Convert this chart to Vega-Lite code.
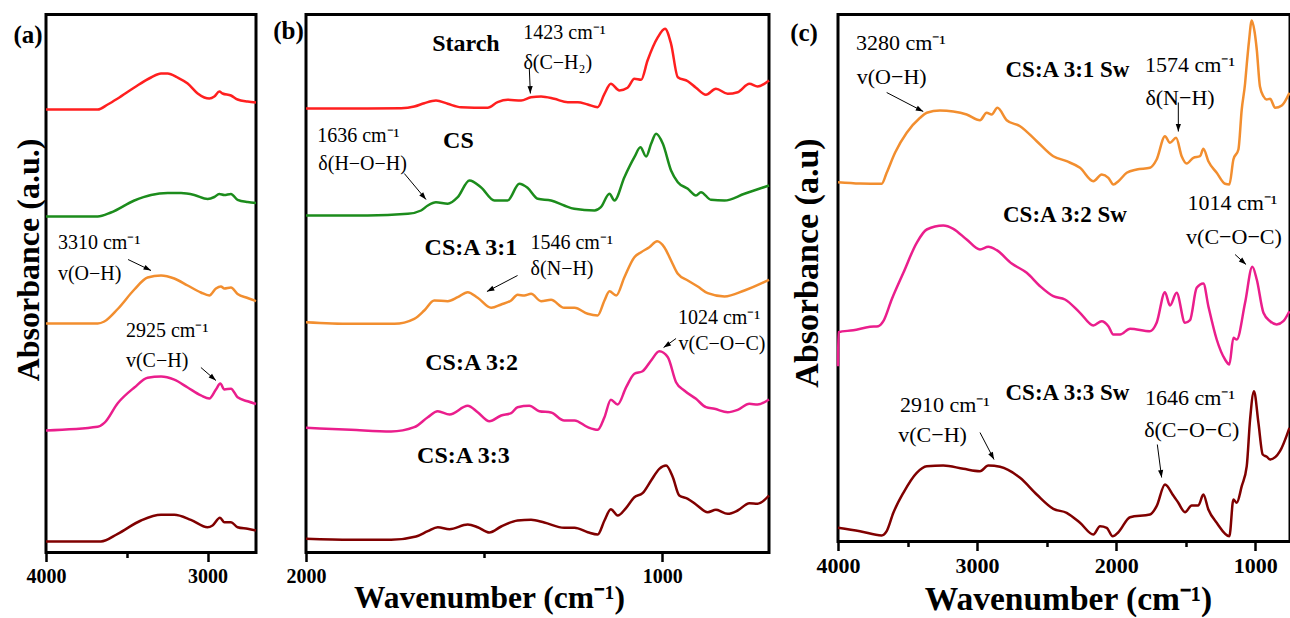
{
  "$schema": "https://vega.github.io/schema/vega-lite/v6.json",
  "padding": {"left": 10, "top": 12.5, "right": 0, "bottom": 0},
  "background": "white",
  "config": {
    "view": {"stroke": "black", "strokeWidth": 3},
    "axis": {"domain": false, "grid": false, "labelFont": "Liberation Serif", "labelFontWeight": "bold", "labelFontSize": 20, "labelColor": "black", "tickColor": "black", "tickWidth": 2.5, "titleFont": "Liberation Serif", "titleFontWeight": "bold", "titleFontSize": 30, "titleColor": "black", "labelFlush": false, "labelOverlap": false},
    "text": {"font": "Liberation Serif", "color": "black"}
  },
  "datasets": {
    "A": [
      {"s": "Starch", "w": 4000, "v": 443}, {"s": "Starch", "w": 3680, "v": 443}, {"s": "Starch", "w": 3618, "v": 448}, {"s": "Starch", "w": 3556, "v": 454}, {"s": "Starch", "w": 3453, "v": 465}, {"s": "Starch", "w": 3350, "v": 475}, {"s": "Starch", "w": 3288, "v": 479}, {"s": "Starch", "w": 3247, "v": 479}, {"s": "Starch", "w": 3185, "v": 475}, {"s": "Starch", "w": 3123, "v": 469}, {"s": "Starch", "w": 3061, "v": 459}, {"s": "Starch", "w": 3020, "v": 455}, {"s": "Starch", "w": 2989, "v": 454}, {"s": "Starch", "w": 2958, "v": 456}, {"s": "Starch", "w": 2927, "v": 461}, {"s": "Starch", "w": 2907, "v": 459}, {"s": "Starch", "w": 2855, "v": 457}, {"s": "Starch", "w": 2814, "v": 453}, {"s": "Starch", "w": 2752, "v": 451}, {"s": "Starch", "w": 2700, "v": 450},
      {"s": "CS", "w": 4000, "v": 336}, {"s": "CS", "w": 3680, "v": 336}, {"s": "CS", "w": 3598, "v": 340}, {"s": "CS", "w": 3453, "v": 352}, {"s": "CS", "w": 3350, "v": 357.5}, {"s": "CS", "w": 3247, "v": 359.4}, {"s": "CS", "w": 3164, "v": 359.4}, {"s": "CS", "w": 3082, "v": 357.5}, {"s": "CS", "w": 2999, "v": 353.5}, {"s": "CS", "w": 2958, "v": 355.5}, {"s": "CS", "w": 2927, "v": 358.6}, {"s": "CS", "w": 2896, "v": 357.5}, {"s": "CS", "w": 2855, "v": 358.6}, {"s": "CS", "w": 2814, "v": 352.7}, {"s": "CS", "w": 2752, "v": 350.4}, {"s": "CS", "w": 2700, "v": 349.6},
      {"s": "CS:A 3:1", "w": 4000, "v": 229}, {"s": "CS:A 3:1", "w": 3680, "v": 229}, {"s": "CS:A 3:1", "w": 3639, "v": 231}, {"s": "CS:A 3:1", "w": 3556, "v": 243.5}, {"s": "CS:A 3:1", "w": 3453, "v": 263}, {"s": "CS:A 3:1", "w": 3371, "v": 275}, {"s": "CS:A 3:1", "w": 3288, "v": 277}, {"s": "CS:A 3:1", "w": 3206, "v": 274}, {"s": "CS:A 3:1", "w": 3123, "v": 267}, {"s": "CS:A 3:1", "w": 3041, "v": 260}, {"s": "CS:A 3:1", "w": 2989, "v": 257}, {"s": "CS:A 3:1", "w": 2948, "v": 264}, {"s": "CS:A 3:1", "w": 2917, "v": 266}, {"s": "CS:A 3:1", "w": 2896, "v": 264}, {"s": "CS:A 3:1", "w": 2855, "v": 265}, {"s": "CS:A 3:1", "w": 2814, "v": 258.5}, {"s": "CS:A 3:1", "w": 2752, "v": 254.5}, {"s": "CS:A 3:1", "w": 2700, "v": 251.4},
      {"s": "CS:A 3:2", "w": 4000, "v": 122}, {"s": "CS:A 3:2", "w": 3680, "v": 125.7}, {"s": "CS:A 3:2", "w": 3639, "v": 129.6}, {"s": "CS:A 3:2", "w": 3556, "v": 149.3}, {"s": "CS:A 3:2", "w": 3453, "v": 165}, {"s": "CS:A 3:2", "w": 3371, "v": 174.8}, {"s": "CS:A 3:2", "w": 3288, "v": 176}, {"s": "CS:A 3:2", "w": 3206, "v": 172.8}, {"s": "CS:A 3:2", "w": 3123, "v": 165}, {"s": "CS:A 3:2", "w": 3041, "v": 157.1}, {"s": "CS:A 3:2", "w": 2989, "v": 154}, {"s": "CS:A 3:2", "w": 2948, "v": 163}, {"s": "CS:A 3:2", "w": 2921, "v": 169}, {"s": "CS:A 3:2", "w": 2896, "v": 163}, {"s": "CS:A 3:2", "w": 2855, "v": 163.8}, {"s": "CS:A 3:2", "w": 2814, "v": 155.2}, {"s": "CS:A 3:2", "w": 2752, "v": 151.2}, {"s": "CS:A 3:2", "w": 2700, "v": 148.5},
      {"s": "CS:A 3:3", "w": 4000, "v": 11}, {"s": "CS:A 3:3", "w": 3660, "v": 11}, {"s": "CS:A 3:3", "w": 3556, "v": 18.7}, {"s": "CS:A 3:3", "w": 3412, "v": 32}, {"s": "CS:A 3:3", "w": 3288, "v": 37.7}, {"s": "CS:A 3:3", "w": 3206, "v": 37.7}, {"s": "CS:A 3:3", "w": 3103, "v": 32.7}, {"s": "CS:A 3:3", "w": 3000, "v": 25.3}, {"s": "CS:A 3:3", "w": 2969, "v": 27}, {"s": "CS:A 3:3", "w": 2923, "v": 34.7}, {"s": "CS:A 3:3", "w": 2896, "v": 30.3}, {"s": "CS:A 3:3", "w": 2855, "v": 30.3}, {"s": "CS:A 3:3", "w": 2814, "v": 25.3}, {"s": "CS:A 3:3", "w": 2752, "v": 23.7}, {"s": "CS:A 3:3", "w": 2700, "v": 22}
    ],
    "B": [
      {"s": "Starch", "w": 2000, "v": 444}, {"s": "Starch", "w": 1920, "v": 444}, {"s": "Starch", "w": 1827, "v": 444}, {"s": "Starch", "w": 1733, "v": 444.3}, {"s": "Starch", "w": 1696, "v": 446}, {"s": "Starch", "w": 1668, "v": 449.3}, {"s": "Starch", "w": 1635, "v": 452}, {"s": "Starch", "w": 1602, "v": 448.7}, {"s": "Starch", "w": 1565, "v": 445.3}, {"s": "Starch", "w": 1490, "v": 444.7}, {"s": "Starch", "w": 1462, "v": 450.3}, {"s": "Starch", "w": 1434, "v": 452.7}, {"s": "Starch", "w": 1396, "v": 452}, {"s": "Starch", "w": 1368, "v": 455.3}, {"s": "Starch", "w": 1340, "v": 456}, {"s": "Starch", "w": 1303, "v": 453.7}, {"s": "Starch", "w": 1265, "v": 450.3}, {"s": "Starch", "w": 1237, "v": 450.3}, {"s": "Starch", "w": 1209, "v": 448}, {"s": "Starch", "w": 1181, "v": 445.3}, {"s": "Starch", "w": 1162, "v": 458.7}, {"s": "Starch", "w": 1144, "v": 468.7}, {"s": "Starch", "w": 1120, "v": 462}, {"s": "Starch", "w": 1097, "v": 464.7}, {"s": "Starch", "w": 1078, "v": 473.7}, {"s": "Starch", "w": 1059, "v": 472.7}, {"s": "Starch", "w": 1041, "v": 492}, {"s": "Starch", "w": 1012, "v": 515.3}, {"s": "Starch", "w": 992, "v": 523.7}, {"s": "Starch", "w": 975, "v": 508.7}, {"s": "Starch", "w": 956, "v": 475.3}, {"s": "Starch", "w": 928, "v": 471.3}, {"s": "Starch", "w": 905, "v": 464.7}, {"s": "Starch", "w": 877, "v": 457.7}, {"s": "Starch", "w": 849, "v": 463.7}, {"s": "Starch", "w": 816, "v": 458.7}, {"s": "Starch", "w": 788, "v": 460.3}, {"s": "Starch", "w": 755, "v": 468.7}, {"s": "Starch", "w": 732, "v": 466}, {"s": "Starch", "w": 700, "v": 472},
      {"s": "CS", "w": 2000, "v": 337}, {"s": "CS", "w": 1827, "v": 337}, {"s": "CS", "w": 1714, "v": 338.7}, {"s": "CS", "w": 1677, "v": 342}, {"s": "CS", "w": 1658, "v": 347}, {"s": "CS", "w": 1635, "v": 350.3}, {"s": "CS", "w": 1602, "v": 348.7}, {"s": "CS", "w": 1574, "v": 355.3}, {"s": "CS", "w": 1541, "v": 372}, {"s": "CS", "w": 1509, "v": 365.3}, {"s": "CS", "w": 1471, "v": 352}, {"s": "CS", "w": 1434, "v": 352}, {"s": "CS", "w": 1401, "v": 368.7}, {"s": "CS", "w": 1378, "v": 364.7}, {"s": "CS", "w": 1349, "v": 353.7}, {"s": "CS", "w": 1312, "v": 352}, {"s": "CS", "w": 1275, "v": 347}, {"s": "CS", "w": 1247, "v": 343.7}, {"s": "CS", "w": 1190, "v": 342}, {"s": "CS", "w": 1172, "v": 345.3}, {"s": "CS", "w": 1148, "v": 358.7}, {"s": "CS", "w": 1134, "v": 352}, {"s": "CS", "w": 1106, "v": 375.3}, {"s": "CS", "w": 1078, "v": 395.3}, {"s": "CS", "w": 1061, "v": 405.3}, {"s": "CS", "w": 1045, "v": 396}, {"s": "CS", "w": 1031, "v": 408.7}, {"s": "CS", "w": 1017, "v": 418.7}, {"s": "CS", "w": 998, "v": 408.7}, {"s": "CS", "w": 975, "v": 382}, {"s": "CS", "w": 956, "v": 370.3}, {"s": "CS", "w": 928, "v": 363.7}, {"s": "CS", "w": 905, "v": 357}, {"s": "CS", "w": 891, "v": 360.3}, {"s": "CS", "w": 863, "v": 352.7}, {"s": "CS", "w": 825, "v": 352}, {"s": "CS", "w": 769, "v": 358.7}, {"s": "CS", "w": 700, "v": 367},
      {"s": "CS:A 3:1", "w": 2000, "v": 230.3}, {"s": "CS:A 3:1", "w": 1874, "v": 228.7}, {"s": "CS:A 3:1", "w": 1752, "v": 228.7}, {"s": "CS:A 3:1", "w": 1696, "v": 233.7}, {"s": "CS:A 3:1", "w": 1668, "v": 242}, {"s": "CS:A 3:1", "w": 1640, "v": 252}, {"s": "CS:A 3:1", "w": 1602, "v": 251.3}, {"s": "CS:A 3:1", "w": 1574, "v": 255.3}, {"s": "CS:A 3:1", "w": 1546, "v": 260.3}, {"s": "CS:A 3:1", "w": 1518, "v": 254.7}, {"s": "CS:A 3:1", "w": 1480, "v": 244.7}, {"s": "CS:A 3:1", "w": 1452, "v": 248}, {"s": "CS:A 3:1", "w": 1424, "v": 252}, {"s": "CS:A 3:1", "w": 1406, "v": 257.7}, {"s": "CS:A 3:1", "w": 1387, "v": 257}, {"s": "CS:A 3:1", "w": 1368, "v": 258.7}, {"s": "CS:A 3:1", "w": 1340, "v": 251.3}, {"s": "CS:A 3:1", "w": 1312, "v": 252.7}, {"s": "CS:A 3:1", "w": 1275, "v": 244.7}, {"s": "CS:A 3:1", "w": 1246, "v": 244.7}, {"s": "CS:A 3:1", "w": 1209, "v": 238.7}, {"s": "CS:A 3:1", "w": 1181, "v": 237}, {"s": "CS:A 3:1", "w": 1162, "v": 252}, {"s": "CS:A 3:1", "w": 1148, "v": 261.3}, {"s": "CS:A 3:1", "w": 1129, "v": 257}, {"s": "CS:A 3:1", "w": 1106, "v": 275.3}, {"s": "CS:A 3:1", "w": 1078, "v": 295.3}, {"s": "CS:A 3:1", "w": 1059, "v": 300.3}, {"s": "CS:A 3:1", "w": 1036, "v": 305.3}, {"s": "CS:A 3:1", "w": 1014, "v": 311.3}, {"s": "CS:A 3:1", "w": 994, "v": 305.3}, {"s": "CS:A 3:1", "w": 975, "v": 292}, {"s": "CS:A 3:1", "w": 956, "v": 278.7}, {"s": "CS:A 3:1", "w": 928, "v": 272}, {"s": "CS:A 3:1", "w": 900, "v": 266}, {"s": "CS:A 3:1", "w": 872, "v": 259.3}, {"s": "CS:A 3:1", "w": 825, "v": 256}, {"s": "CS:A 3:1", "w": 769, "v": 262}, {"s": "CS:A 3:1", "w": 700, "v": 272.7},
      {"s": "CS:A 3:2", "w": 2000, "v": 124.7}, {"s": "CS:A 3:2", "w": 1874, "v": 122.7}, {"s": "CS:A 3:2", "w": 1761, "v": 121}, {"s": "CS:A 3:2", "w": 1696, "v": 125.3}, {"s": "CS:A 3:2", "w": 1658, "v": 135.3}, {"s": "CS:A 3:2", "w": 1630, "v": 141.3}, {"s": "CS:A 3:2", "w": 1597, "v": 138}, {"s": "CS:A 3:2", "w": 1546, "v": 146.7}, {"s": "CS:A 3:2", "w": 1518, "v": 140.3}, {"s": "CS:A 3:2", "w": 1485, "v": 131.3}, {"s": "CS:A 3:2", "w": 1452, "v": 137}, {"s": "CS:A 3:2", "w": 1424, "v": 139.3}, {"s": "CS:A 3:2", "w": 1406, "v": 145.3}, {"s": "CS:A 3:2", "w": 1373, "v": 146.7}, {"s": "CS:A 3:2", "w": 1345, "v": 141.3}, {"s": "CS:A 3:2", "w": 1312, "v": 140}, {"s": "CS:A 3:2", "w": 1275, "v": 132}, {"s": "CS:A 3:2", "w": 1246, "v": 132}, {"s": "CS:A 3:2", "w": 1209, "v": 125.3}, {"s": "CS:A 3:2", "w": 1181, "v": 122.7}, {"s": "CS:A 3:2", "w": 1162, "v": 135.3}, {"s": "CS:A 3:2", "w": 1144, "v": 152.7}, {"s": "CS:A 3:2", "w": 1125, "v": 148}, {"s": "CS:A 3:2", "w": 1101, "v": 165.3}, {"s": "CS:A 3:2", "w": 1078, "v": 178.7}, {"s": "CS:A 3:2", "w": 1055, "v": 181.3}, {"s": "CS:A 3:2", "w": 1031, "v": 192}, {"s": "CS:A 3:2", "w": 1008, "v": 201.3}, {"s": "CS:A 3:2", "w": 984, "v": 195.3}, {"s": "CS:A 3:2", "w": 961, "v": 170.3}, {"s": "CS:A 3:2", "w": 938, "v": 162}, {"s": "CS:A 3:2", "w": 905, "v": 153.7}, {"s": "CS:A 3:2", "w": 877, "v": 145.3}, {"s": "CS:A 3:2", "w": 853, "v": 143.7}, {"s": "CS:A 3:2", "w": 816, "v": 140.3}, {"s": "CS:A 3:2", "w": 788, "v": 142.7}, {"s": "CS:A 3:2", "w": 755, "v": 148.7}, {"s": "CS:A 3:2", "w": 732, "v": 148}, {"s": "CS:A 3:2", "w": 700, "v": 153},
      {"s": "CS:A 3:3", "w": 2000, "v": 13.7}, {"s": "CS:A 3:3", "w": 1874, "v": 12.7}, {"s": "CS:A 3:3", "w": 1761, "v": 12.7}, {"s": "CS:A 3:3", "w": 1691, "v": 16}, {"s": "CS:A 3:3", "w": 1658, "v": 21.3}, {"s": "CS:A 3:3", "w": 1630, "v": 25.3}, {"s": "CS:A 3:3", "w": 1597, "v": 23.3}, {"s": "CS:A 3:3", "w": 1546, "v": 28}, {"s": "CS:A 3:3", "w": 1518, "v": 25.3}, {"s": "CS:A 3:3", "w": 1485, "v": 20}, {"s": "CS:A 3:3", "w": 1452, "v": 26}, {"s": "CS:A 3:3", "w": 1406, "v": 32}, {"s": "CS:A 3:3", "w": 1368, "v": 32.7}, {"s": "CS:A 3:3", "w": 1331, "v": 30}, {"s": "CS:A 3:3", "w": 1275, "v": 24.7}, {"s": "CS:A 3:3", "w": 1246, "v": 24.7}, {"s": "CS:A 3:3", "w": 1209, "v": 20.3}, {"s": "CS:A 3:3", "w": 1181, "v": 18}, {"s": "CS:A 3:3", "w": 1162, "v": 32}, {"s": "CS:A 3:3", "w": 1144, "v": 43.3}, {"s": "CS:A 3:3", "w": 1125, "v": 37}, {"s": "CS:A 3:3", "w": 1101, "v": 44.7}, {"s": "CS:A 3:3", "w": 1078, "v": 55.3}, {"s": "CS:A 3:3", "w": 1055, "v": 59.3}, {"s": "CS:A 3:3", "w": 1031, "v": 72}, {"s": "CS:A 3:3", "w": 1008, "v": 83.7}, {"s": "CS:A 3:3", "w": 989, "v": 87}, {"s": "CS:A 3:3", "w": 970, "v": 75.3}, {"s": "CS:A 3:3", "w": 952, "v": 57}, {"s": "CS:A 3:3", "w": 928, "v": 53.7}, {"s": "CS:A 3:3", "w": 905, "v": 48}, {"s": "CS:A 3:3", "w": 872, "v": 40.3}, {"s": "CS:A 3:3", "w": 849, "v": 42.7}, {"s": "CS:A 3:3", "w": 816, "v": 38.7}, {"s": "CS:A 3:3", "w": 788, "v": 42}, {"s": "CS:A 3:3", "w": 755, "v": 49.3}, {"s": "CS:A 3:3", "w": 732, "v": 48.7}, {"s": "CS:A 3:3", "w": 700, "v": 57}
    ],
    "C": [
      {"s": "CS:A 3:1 Sw", "w": 4000, "v": 359.3}, {"s": "CS:A 3:1 Sw", "w": 3842, "v": 358}, {"s": "CS:A 3:1 Sw", "w": 3686, "v": 357.7}, {"s": "CS:A 3:1 Sw", "w": 3650, "v": 368.7}, {"s": "CS:A 3:1 Sw", "w": 3590, "v": 388.7}, {"s": "CS:A 3:1 Sw", "w": 3506, "v": 408.7}, {"s": "CS:A 3:1 Sw", "w": 3410, "v": 423.7}, {"s": "CS:A 3:1 Sw", "w": 3362, "v": 428.7}, {"s": "CS:A 3:1 Sw", "w": 3267, "v": 431}, {"s": "CS:A 3:1 Sw", "w": 3171, "v": 430}, {"s": "CS:A 3:1 Sw", "w": 3075, "v": 427}, {"s": "CS:A 3:1 Sw", "w": 2979, "v": 421.3}, {"s": "CS:A 3:1 Sw", "w": 2931, "v": 428.7}, {"s": "CS:A 3:1 Sw", "w": 2895, "v": 427}, {"s": "CS:A 3:1 Sw", "w": 2854, "v": 433.7}, {"s": "CS:A 3:1 Sw", "w": 2787, "v": 421.3}, {"s": "CS:A 3:1 Sw", "w": 2691, "v": 415.3}, {"s": "CS:A 3:1 Sw", "w": 2571, "v": 400.3}, {"s": "CS:A 3:1 Sw", "w": 2452, "v": 385.3}, {"s": "CS:A 3:1 Sw", "w": 2356, "v": 380.3}, {"s": "CS:A 3:1 Sw", "w": 2260, "v": 373.7}, {"s": "CS:A 3:1 Sw", "w": 2164, "v": 360.3}, {"s": "CS:A 3:1 Sw", "w": 2104, "v": 367}, {"s": "CS:A 3:1 Sw", "w": 2056, "v": 363.7}, {"s": "CS:A 3:1 Sw", "w": 2020, "v": 357}, {"s": "CS:A 3:1 Sw", "w": 1984, "v": 360.3}, {"s": "CS:A 3:1 Sw", "w": 1924, "v": 368.7}, {"s": "CS:A 3:1 Sw", "w": 1852, "v": 372}, {"s": "CS:A 3:1 Sw", "w": 1757, "v": 373.7}, {"s": "CS:A 3:1 Sw", "w": 1709, "v": 382}, {"s": "CS:A 3:1 Sw", "w": 1649, "v": 405.3}, {"s": "CS:A 3:1 Sw", "w": 1613, "v": 398.7}, {"s": "CS:A 3:1 Sw", "w": 1569, "v": 403.7}, {"s": "CS:A 3:1 Sw", "w": 1529, "v": 385.3}, {"s": "CS:A 3:1 Sw", "w": 1493, "v": 378}, {"s": "CS:A 3:1 Sw", "w": 1445, "v": 383.7}, {"s": "CS:A 3:1 Sw", "w": 1397, "v": 385.3}, {"s": "CS:A 3:1 Sw", "w": 1373, "v": 392.7}, {"s": "CS:A 3:1 Sw", "w": 1337, "v": 380.3}, {"s": "CS:A 3:1 Sw", "w": 1277, "v": 368.7}, {"s": "CS:A 3:1 Sw", "w": 1217, "v": 357.7}, {"s": "CS:A 3:1 Sw", "w": 1186, "v": 357}, {"s": "CS:A 3:1 Sw", "w": 1157, "v": 382}, {"s": "CS:A 3:1 Sw", "w": 1121, "v": 392}, {"s": "CS:A 3:1 Sw", "w": 1097, "v": 432}, {"s": "CS:A 3:1 Sw", "w": 1073, "v": 458}, {"s": "CS:A 3:1 Sw", "w": 1061, "v": 477}, {"s": "CS:A 3:1 Sw", "w": 1045, "v": 500}, {"s": "CS:A 3:1 Sw", "w": 1025, "v": 521}, {"s": "CS:A 3:1 Sw", "w": 1005, "v": 510}, {"s": "CS:A 3:1 Sw", "w": 989, "v": 492}, {"s": "CS:A 3:1 Sw", "w": 966, "v": 455}, {"s": "CS:A 3:1 Sw", "w": 940, "v": 445}, {"s": "CS:A 3:1 Sw", "w": 918, "v": 442}, {"s": "CS:A 3:1 Sw", "w": 893, "v": 442.7}, {"s": "CS:A 3:1 Sw", "w": 857, "v": 433.7}, {"s": "CS:A 3:1 Sw", "w": 809, "v": 436}, {"s": "CS:A 3:1 Sw", "w": 754, "v": 448.7},
      {"s": "CS:A 3:2 Sw", "w": 4000, "v": 175.3}, {"s": "CS:A 3:2 Sw", "w": 3997, "v": 209.3}, {"s": "CS:A 3:2 Sw", "w": 3890, "v": 211.3}, {"s": "CS:A 3:2 Sw", "w": 3770, "v": 214.7}, {"s": "CS:A 3:2 Sw", "w": 3710, "v": 215.3}, {"s": "CS:A 3:2 Sw", "w": 3674, "v": 220.3}, {"s": "CS:A 3:2 Sw", "w": 3614, "v": 242}, {"s": "CS:A 3:2 Sw", "w": 3530, "v": 268.7}, {"s": "CS:A 3:2 Sw", "w": 3434, "v": 298.7}, {"s": "CS:A 3:2 Sw", "w": 3362, "v": 312}, {"s": "CS:A 3:2 Sw", "w": 3243, "v": 316}, {"s": "CS:A 3:2 Sw", "w": 3171, "v": 312.7}, {"s": "CS:A 3:2 Sw", "w": 3075, "v": 302}, {"s": "CS:A 3:2 Sw", "w": 2979, "v": 292}, {"s": "CS:A 3:2 Sw", "w": 2919, "v": 294.7}, {"s": "CS:A 3:2 Sw", "w": 2859, "v": 291.3}, {"s": "CS:A 3:2 Sw", "w": 2751, "v": 278}, {"s": "CS:A 3:2 Sw", "w": 2643, "v": 268.7}, {"s": "CS:A 3:2 Sw", "w": 2547, "v": 255.3}, {"s": "CS:A 3:2 Sw", "w": 2452, "v": 245.3}, {"s": "CS:A 3:2 Sw", "w": 2368, "v": 242}, {"s": "CS:A 3:2 Sw", "w": 2260, "v": 228.7}, {"s": "CS:A 3:2 Sw", "w": 2164, "v": 216}, {"s": "CS:A 3:2 Sw", "w": 2104, "v": 220.3}, {"s": "CS:A 3:2 Sw", "w": 2056, "v": 215.3}, {"s": "CS:A 3:2 Sw", "w": 2020, "v": 207}, {"s": "CS:A 3:2 Sw", "w": 1972, "v": 207}, {"s": "CS:A 3:2 Sw", "w": 1900, "v": 212.7}, {"s": "CS:A 3:2 Sw", "w": 1757, "v": 210.3}, {"s": "CS:A 3:2 Sw", "w": 1709, "v": 218.7}, {"s": "CS:A 3:2 Sw", "w": 1649, "v": 249.3}, {"s": "CS:A 3:2 Sw", "w": 1613, "v": 236}, {"s": "CS:A 3:2 Sw", "w": 1565, "v": 248.7}, {"s": "CS:A 3:2 Sw", "w": 1505, "v": 218.7}, {"s": "CS:A 3:2 Sw", "w": 1469, "v": 221.3}, {"s": "CS:A 3:2 Sw", "w": 1421, "v": 253.7}, {"s": "CS:A 3:2 Sw", "w": 1373, "v": 258}, {"s": "CS:A 3:2 Sw", "w": 1337, "v": 235.3}, {"s": "CS:A 3:2 Sw", "w": 1277, "v": 202}, {"s": "CS:A 3:2 Sw", "w": 1217, "v": 182}, {"s": "CS:A 3:2 Sw", "w": 1186, "v": 177}, {"s": "CS:A 3:2 Sw", "w": 1157, "v": 203.7}, {"s": "CS:A 3:2 Sw", "w": 1133, "v": 202}, {"s": "CS:A 3:2 Sw", "w": 1073, "v": 238.7}, {"s": "CS:A 3:2 Sw", "w": 1021, "v": 274.7}, {"s": "CS:A 3:2 Sw", "w": 989, "v": 262}, {"s": "CS:A 3:2 Sw", "w": 941, "v": 228.7}, {"s": "CS:A 3:2 Sw", "w": 893, "v": 220.3}, {"s": "CS:A 3:2 Sw", "w": 846, "v": 217}, {"s": "CS:A 3:2 Sw", "w": 798, "v": 220.3}, {"s": "CS:A 3:2 Sw", "w": 754, "v": 230.3},
      {"s": "CS:A 3:3 Sw", "w": 4000, "v": 13.7}, {"s": "CS:A 3:3 Sw", "w": 3842, "v": 10.3}, {"s": "CS:A 3:3 Sw", "w": 3686, "v": 6}, {"s": "CS:A 3:3 Sw", "w": 3650, "v": 10.3}, {"s": "CS:A 3:3 Sw", "w": 3602, "v": 28.7}, {"s": "CS:A 3:3 Sw", "w": 3530, "v": 48.7}, {"s": "CS:A 3:3 Sw", "w": 3434, "v": 68.7}, {"s": "CS:A 3:3 Sw", "w": 3362, "v": 75.3}, {"s": "CS:A 3:3 Sw", "w": 3243, "v": 76}, {"s": "CS:A 3:3 Sw", "w": 3099, "v": 72.7}, {"s": "CS:A 3:3 Sw", "w": 2979, "v": 70.3}, {"s": "CS:A 3:3 Sw", "w": 2919, "v": 76}, {"s": "CS:A 3:3 Sw", "w": 2835, "v": 74.7}, {"s": "CS:A 3:3 Sw", "w": 2691, "v": 63.7}, {"s": "CS:A 3:3 Sw", "w": 2571, "v": 47}, {"s": "CS:A 3:3 Sw", "w": 2452, "v": 32.7}, {"s": "CS:A 3:3 Sw", "w": 2356, "v": 28.7}, {"s": "CS:A 3:3 Sw", "w": 2260, "v": 18.7}, {"s": "CS:A 3:3 Sw", "w": 2164, "v": 7}, {"s": "CS:A 3:3 Sw", "w": 2116, "v": 15.3}, {"s": "CS:A 3:3 Sw", "w": 2068, "v": 13.7}, {"s": "CS:A 3:3 Sw", "w": 2025, "v": 5.3}, {"s": "CS:A 3:3 Sw", "w": 1984, "v": 9.3}, {"s": "CS:A 3:3 Sw", "w": 1900, "v": 24.3}, {"s": "CS:A 3:3 Sw", "w": 1757, "v": 27}, {"s": "CS:A 3:3 Sw", "w": 1709, "v": 35.3}, {"s": "CS:A 3:3 Sw", "w": 1649, "v": 57}, {"s": "CS:A 3:3 Sw", "w": 1589, "v": 46}, {"s": "CS:A 3:3 Sw", "w": 1553, "v": 38.7}, {"s": "CS:A 3:3 Sw", "w": 1505, "v": 29.3}, {"s": "CS:A 3:3 Sw", "w": 1457, "v": 36}, {"s": "CS:A 3:3 Sw", "w": 1409, "v": 36}, {"s": "CS:A 3:3 Sw", "w": 1373, "v": 47}, {"s": "CS:A 3:3 Sw", "w": 1337, "v": 32}, {"s": "CS:A 3:3 Sw", "w": 1277, "v": 18.7}, {"s": "CS:A 3:3 Sw", "w": 1186, "v": 5.3}, {"s": "CS:A 3:3 Sw", "w": 1157, "v": 42}, {"s": "CS:A 3:3 Sw", "w": 1133, "v": 38.7}, {"s": "CS:A 3:3 Sw", "w": 1097, "v": 55.3}, {"s": "CS:A 3:3 Sw", "w": 1061, "v": 75.3}, {"s": "CS:A 3:3 Sw", "w": 1037, "v": 122}, {"s": "CS:A 3:3 Sw", "w": 1009, "v": 150.3}, {"s": "CS:A 3:3 Sw", "w": 977, "v": 118.7}, {"s": "CS:A 3:3 Sw", "w": 946, "v": 87}, {"s": "CS:A 3:3 Sw", "w": 917, "v": 84.7}, {"s": "CS:A 3:3 Sw", "w": 893, "v": 82}, {"s": "CS:A 3:3 Sw", "w": 822, "v": 90.3}, {"s": "CS:A 3:3 Sw", "w": 754, "v": 113.7}
    ],
    "notes": [
      {"p": "a", "k": "note", "t": "3310 cm⁻¹", "w": 3926, "v": 310},
      {"p": "a", "k": "note", "t": "v(O−H)", "w": 3926, "v": 279},
      {"p": "a", "k": "note", "t": "2925 cm⁻¹", "w": 3505, "v": 222},
      {"p": "a", "k": "note", "t": "v(C−H)", "w": 3505, "v": 192},
      {"p": "a", "k": "panel", "t": "(a)", "w": 4111, "v": 518},
      {"p": "b", "k": "name", "t": "Starch", "w": 1551, "v": 509},
      {"p": "b", "k": "note", "t": "1423 cm⁻¹", "w": 1274, "v": 520},
      {"p": "b", "k": "note", "t": "δ(C−H₂)", "w": 1293, "v": 490},
      {"p": "b", "k": "note", "t": "1636 cm⁻¹", "w": 1853, "v": 417},
      {"p": "b", "k": "note", "t": "δ(H−O−H)", "w": 1841, "v": 389},
      {"p": "b", "k": "name", "t": "CS", "w": 1572, "v": 412},
      {"p": "b", "k": "name", "t": "CS:A 3:1", "w": 1537, "v": 305},
      {"p": "b", "k": "note", "t": "1546 cm⁻¹", "w": 1254, "v": 310},
      {"p": "b", "k": "note", "t": "δ(N−H)", "w": 1281, "v": 284},
      {"p": "b", "k": "note", "t": "1024 cm⁻¹", "w": 840, "v": 235},
      {"p": "b", "k": "note", "t": "v(C−O−C)", "w": 832, "v": 209},
      {"p": "b", "k": "name", "t": "CS:A 3:2", "w": 1535, "v": 190},
      {"p": "b", "k": "name", "t": "CS:A 3:3", "w": 1558, "v": 97},
      {"p": "b", "k": "panel", "t": "(b)", "w": 2049, "v": 522},
      {"p": "c", "k": "note", "t": "3280 cm⁻¹", "w": 3548, "v": 499},
      {"p": "c", "k": "note", "t": "v(O−H)", "w": 3614, "v": 465},
      {"p": "c", "k": "name", "t": "CS:A 3:1 Sw", "w": 2350, "v": 472},
      {"p": "c", "k": "note", "t": "1574 cm⁻¹", "w": 1469, "v": 477},
      {"p": "c", "k": "note", "t": "δ(N−H)", "w": 1541, "v": 444},
      {"p": "c", "k": "note", "t": "1014 cm⁻¹", "w": 1164, "v": 339},
      {"p": "c", "k": "note", "t": "v(C−O−C)", "w": 1153, "v": 305},
      {"p": "c", "k": "name", "t": "CS:A 3:2 Sw", "w": 2368, "v": 327},
      {"p": "c", "k": "name", "t": "CS:A 3:3 Sw", "w": 2350, "v": 149},
      {"p": "c", "k": "note", "t": "2910 cm⁻¹", "w": 3231, "v": 137},
      {"p": "c", "k": "note", "t": "v(C−H)", "w": 3320, "v": 107},
      {"p": "c", "k": "note", "t": "1646 cm⁻¹", "w": 1469, "v": 144},
      {"p": "c", "k": "note", "t": "δ(C−O−C)", "w": 1457, "v": 112},
      {"p": "c", "k": "panel", "t": "(c)", "w": 4244, "v": 509}
    ],
    "arrows": [
      {"p": "a", "id": "a1", "w": 3492, "v": 293, "w2": 3350, "v2": 282},
      {"p": "a", "id": "a2", "w": 3041, "v": 185, "w2": 2948, "v2": 172},
      {"p": "b", "id": "b1", "w": 1373, "v": 484, "w2": 1370, "v2": 459},
      {"p": "b", "id": "b2", "w": 1724, "v": 379, "w2": 1663, "v2": 353},
      {"p": "b", "id": "b3", "w": 1406, "v": 277, "w2": 1492, "v2": 261},
      {"p": "b", "id": "b4", "w": 961, "v": 214, "w2": 996, "v2": 205},
      {"p": "c", "id": "c1", "w": 3650, "v": 449, "w2": 3387, "v2": 430},
      {"p": "c", "id": "c2", "w": 1553, "v": 439, "w2": 1553, "v2": 410},
      {"p": "c", "id": "c3", "w": 1145, "v": 287, "w2": 1066, "v2": 277},
      {"p": "c", "id": "c4", "w": 2979, "v": 109, "w2": 2878, "v2": 82},
      {"p": "c", "id": "c5", "w": 1704, "v": 97, "w2": 1673, "v2": 64}
    ]
  },
  "spacing": 12,
  "hconcat": [
    {
      "spacing": 8,
      "hconcat": [
        {
          "width": 210, "height": 538,
          "encoding": {
            "x": {"field": "w", "type": "quantitative", "title": null, "scale": {"domain": [2700, 4000], "reverse": true, "nice": false, "zero": false},
                  "axis": {"values": [4000, 3500, 3000], "format": "d", "labelExpr": "datum.value % 1000 === 0 ? datum.label : ''", "tickSize": {"condition": {"test": "datum.value % 1000 === 0", "value": 9}, "value": 5}, "labelPadding": 5}},
            "y": {"field": "v", "type": "quantitative", "title": "Absorbance (a.u.)", "scale": {"domain": [0, 538], "nice": false, "zero": false},
                  "axis": {"labels": false, "ticks": false, "values": [], "titleX": -18, "titleY": 245, "titleBaseline": "middle", "titleAngle": -90, "titleFontSize": 32}}
          },
          "layer": [
            {"data": {"name": "A"}, "mark": {"type": "line", "strokeWidth": 2.5, "interpolate": "monotone"},
             "encoding": {"color": {"field": "s", "type": "nominal", "legend": null, "scale": {"domain": ["Starch", "CS", "CS:A 3:1", "CS:A 3:2", "CS:A 3:3", "CS:A 3:1 Sw", "CS:A 3:2 Sw", "CS:A 3:3 Sw"], "range": ["#ff1f1f", "#1c8c1c", "#f28e2f", "#ea1e8c", "#800000", "#f28e2f", "#ea1e8c", "#800000"]}}}},
            {"data": {"name": "arrows"}, "transform": [{"filter": "datum.p === 'a'"}], "mark": {"type": "rule", "strokeWidth": 1, "color": "black"},
             "encoding": {"x2": {"field": "w2"}, "y2": {"field": "v2"}}},
            {"data": {"name": "arrows"}, "transform": [{"filter": "datum.id === 'a1'"}], "mark": {"type": "point", "shape": "M0,0L0.7,2L-0.7,2Z", "filled": true, "color": "black", "opacity": 1, "size": 55, "angle": 116, "strokeWidth": 0},
             "encoding": {"x": {"field": "w2", "type": "quantitative", "title": null, "scale": {"domain": [2700, 4000], "reverse": true, "nice": false, "zero": false}}, "y": {"field": "v2", "type": "quantitative", "title": "Absorbance (a.u.)", "scale": {"domain": [0, 538], "nice": false, "zero": false}}}},
            {"data": {"name": "arrows"}, "transform": [{"filter": "datum.id === 'a2'"}], "mark": {"type": "point", "shape": "M0,0L0.7,2L-0.7,2Z", "filled": true, "color": "black", "opacity": 1, "size": 55, "angle": 131, "strokeWidth": 0},
             "encoding": {"x": {"field": "w2", "type": "quantitative", "title": null, "scale": {"domain": [2700, 4000], "reverse": true, "nice": false, "zero": false}}, "y": {"field": "v2", "type": "quantitative", "title": "Absorbance (a.u.)", "scale": {"domain": [0, 538], "nice": false, "zero": false}}}},
            {"data": {"name": "notes"}, "transform": [{"filter": "datum.p === 'a' && datum.k === 'note'"}], "mark": {"type": "text", "align": "left", "baseline": "middle", "fontSize": 20, "font": "Liberation Serif"},
             "encoding": {"text": {"field": "t"}}},
            {"data": {"name": "notes"}, "transform": [{"filter": "datum.p === 'a' && datum.k === 'panel'"}], "mark": {"type": "text", "align": "center", "baseline": "middle", "fontSize": 25, "fontWeight": "bold", "font": "Liberation Serif"},
             "encoding": {"text": {"field": "t"}}}
          ]
        },
        {
          "width": 463, "height": 538,
          "encoding": {
            "x": {"field": "w", "type": "quantitative", "title": "Wavenumber (cm⁻¹)", "scale": {"domain": [700, 2000], "reverse": true, "nice": false, "zero": false},
                  "axis": {"values": [2000, 1500, 1000], "format": "d", "labelExpr": "datum.value % 1000 === 0 ? datum.label : ''", "tickSize": {"condition": {"test": "datum.value % 1000 === 0", "value": 9}, "value": 5}, "labelPadding": 5, "titleX": 183, "titleY": 55, "titleBaseline": "alphabetic", "titleFontSize": 31.5}},
            "y": {"field": "v", "type": "quantitative", "scale": {"domain": [0, 538], "nice": false, "zero": false}, "axis": null}
          },
          "layer": [
            {"data": {"name": "B"}, "mark": {"type": "line", "strokeWidth": 2.5, "interpolate": "monotone"},
             "encoding": {"color": {"field": "s", "type": "nominal", "legend": null, "scale": {"domain": ["Starch", "CS", "CS:A 3:1", "CS:A 3:2", "CS:A 3:3", "CS:A 3:1 Sw", "CS:A 3:2 Sw", "CS:A 3:3 Sw"], "range": ["#ff1f1f", "#1c8c1c", "#f28e2f", "#ea1e8c", "#800000", "#f28e2f", "#ea1e8c", "#800000"]}}}},
            {"data": {"name": "arrows"}, "transform": [{"filter": "datum.p === 'b'"}], "mark": {"type": "rule", "strokeWidth": 1, "color": "black"},
             "encoding": {"x2": {"field": "w2"}, "y2": {"field": "v2"}}},
            {"data": {"name": "arrows"}, "transform": [{"filter": "datum.id === 'b1'"}], "mark": {"type": "point", "shape": "M0,0L0.7,2L-0.7,2Z", "filled": true, "color": "black", "opacity": 1, "size": 55, "angle": 178, "strokeWidth": 0},
             "encoding": {"x": {"field": "w2", "type": "quantitative", "title": "Wavenumber (cm⁻¹)", "scale": {"domain": [700, 2000], "reverse": true, "nice": false, "zero": false}}, "y": {"field": "v2", "type": "quantitative", "scale": {"domain": [0, 538], "nice": false, "zero": false}, "axis": null}}},
            {"data": {"name": "arrows"}, "transform": [{"filter": "datum.id === 'b2'"}], "mark": {"type": "point", "shape": "M0,0L0.7,2L-0.7,2Z", "filled": true, "color": "black", "opacity": 1, "size": 55, "angle": 140, "strokeWidth": 0},
             "encoding": {"x": {"field": "w2", "type": "quantitative", "title": "Wavenumber (cm⁻¹)", "scale": {"domain": [700, 2000], "reverse": true, "nice": false, "zero": false}}, "y": {"field": "v2", "type": "quantitative", "scale": {"domain": [0, 538], "nice": false, "zero": false}, "axis": null}}},
            {"data": {"name": "arrows"}, "transform": [{"filter": "datum.id === 'b3'"}], "mark": {"type": "point", "shape": "M0,0L0.7,2L-0.7,2Z", "filled": true, "color": "black", "opacity": 1, "size": 55, "angle": 243, "strokeWidth": 0},
             "encoding": {"x": {"field": "w2", "type": "quantitative", "title": "Wavenumber (cm⁻¹)", "scale": {"domain": [700, 2000], "reverse": true, "nice": false, "zero": false}}, "y": {"field": "v2", "type": "quantitative", "scale": {"domain": [0, 538], "nice": false, "zero": false}, "axis": null}}},
            {"data": {"name": "arrows"}, "transform": [{"filter": "datum.id === 'b4'"}], "mark": {"type": "point", "shape": "M0,0L0.7,2L-0.7,2Z", "filled": true, "color": "black", "opacity": 1, "size": 55, "angle": 236, "strokeWidth": 0},
             "encoding": {"x": {"field": "w2", "type": "quantitative", "title": "Wavenumber (cm⁻¹)", "scale": {"domain": [700, 2000], "reverse": true, "nice": false, "zero": false}}, "y": {"field": "v2", "type": "quantitative", "scale": {"domain": [0, 538], "nice": false, "zero": false}, "axis": null}}},
            {"data": {"name": "notes"}, "transform": [{"filter": "datum.p === 'b' && datum.k === 'note'"}], "mark": {"type": "text", "align": "center", "baseline": "middle", "fontSize": 20, "font": "Liberation Serif"},
             "encoding": {"text": {"field": "t"}}},
            {"data": {"name": "notes"}, "transform": [{"filter": "datum.p === 'b' && datum.k === 'name'"}], "mark": {"type": "text", "align": "center", "baseline": "middle", "fontSize": 24, "fontWeight": "bold", "font": "Liberation Serif"},
             "encoding": {"text": {"field": "t"}}},
            {"data": {"name": "notes"}, "transform": [{"filter": "datum.p === 'b' && datum.k === 'panel'"}], "mark": {"type": "text", "align": "center", "baseline": "middle", "fontSize": 25, "fontWeight": "bold", "font": "Liberation Serif"},
             "encoding": {"text": {"field": "t"}}}
          ]
        }
      ]
    },
    {
      "width": 452, "height": 527,
      "encoding": {
        "x": {"field": "w", "type": "quantitative", "title": "Wavenumber (cm⁻¹)", "scale": {"domain": [750, 4000], "reverse": true, "nice": false, "zero": false},
              "axis": {"values": [4000, 3500, 3000, 2500, 2000, 1500, 1000], "format": "d", "labelExpr": "datum.value % 1000 === 0 ? datum.label : ''", "tickSize": {"condition": {"test": "datum.value % 1000 === 0", "value": 9}, "value": 5}, "labelPadding": 5, "labelFontSize": 22, "titleX": 230, "titleY": 68, "titleBaseline": "alphabetic", "titleFontSize": 33.5}},
        "y": {"field": "v", "type": "quantitative", "title": "Absorbance (a.u)", "scale": {"domain": [0, 527], "nice": false, "zero": false},
              "axis": {"labels": false, "ticks": false, "values": [], "titleX": -31, "titleY": 248, "titleBaseline": "middle", "titleAngle": -90, "titleFontSize": 34}}
      },
      "layer": [
        {"data": {"name": "C"}, "mark": {"type": "line", "strokeWidth": 2.5, "interpolate": "monotone"},
         "encoding": {"color": {"field": "s", "type": "nominal", "legend": null, "scale": {"domain": ["Starch", "CS", "CS:A 3:1", "CS:A 3:2", "CS:A 3:3", "CS:A 3:1 Sw", "CS:A 3:2 Sw", "CS:A 3:3 Sw"], "range": ["#ff1f1f", "#1c8c1c", "#f28e2f", "#ea1e8c", "#800000", "#f28e2f", "#ea1e8c", "#800000"]}}}},
        {"data": {"name": "arrows"}, "transform": [{"filter": "datum.p === 'c'"}], "mark": {"type": "rule", "strokeWidth": 1, "color": "black"},
         "encoding": {"x2": {"field": "w2"}, "y2": {"field": "v2"}}},
        {"data": {"name": "arrows"}, "transform": [{"filter": "datum.id === 'c1'"}], "mark": {"type": "point", "shape": "M0,0L0.7,2L-0.7,2Z", "filled": true, "color": "black", "opacity": 1, "size": 55, "angle": 117, "strokeWidth": 0},
         "encoding": {"x": {"field": "w2", "type": "quantitative", "title": "Wavenumber (cm⁻¹)", "scale": {"domain": [750, 4000], "reverse": true, "nice": false, "zero": false}}, "y": {"field": "v2", "type": "quantitative", "title": "Absorbance (a.u)", "scale": {"domain": [0, 527], "nice": false, "zero": false}}}},
        {"data": {"name": "arrows"}, "transform": [{"filter": "datum.id === 'c2'"}], "mark": {"type": "point", "shape": "M0,0L0.7,2L-0.7,2Z", "filled": true, "color": "black", "opacity": 1, "size": 55, "angle": 180, "strokeWidth": 0},
         "encoding": {"x": {"field": "w2", "type": "quantitative", "title": "Wavenumber (cm⁻¹)", "scale": {"domain": [750, 4000], "reverse": true, "nice": false, "zero": false}}, "y": {"field": "v2", "type": "quantitative", "title": "Absorbance (a.u)", "scale": {"domain": [0, 527], "nice": false, "zero": false}}}},
        {"data": {"name": "arrows"}, "transform": [{"filter": "datum.id === 'c3'"}], "mark": {"type": "point", "shape": "M0,0L0.7,2L-0.7,2Z", "filled": true, "color": "black", "opacity": 1, "size": 55, "angle": 132, "strokeWidth": 0},
         "encoding": {"x": {"field": "w2", "type": "quantitative", "title": "Wavenumber (cm⁻¹)", "scale": {"domain": [750, 4000], "reverse": true, "nice": false, "zero": false}}, "y": {"field": "v2", "type": "quantitative", "title": "Absorbance (a.u)", "scale": {"domain": [0, 527], "nice": false, "zero": false}}}},
        {"data": {"name": "arrows"}, "transform": [{"filter": "datum.id === 'c4'"}], "mark": {"type": "point", "shape": "M0,0L0.7,2L-0.7,2Z", "filled": true, "color": "black", "opacity": 1, "size": 55, "angle": 152, "strokeWidth": 0},
         "encoding": {"x": {"field": "w2", "type": "quantitative", "title": "Wavenumber (cm⁻¹)", "scale": {"domain": [750, 4000], "reverse": true, "nice": false, "zero": false}}, "y": {"field": "v2", "type": "quantitative", "title": "Absorbance (a.u)", "scale": {"domain": [0, 527], "nice": false, "zero": false}}}},
        {"data": {"name": "arrows"}, "transform": [{"filter": "datum.id === 'c5'"}], "mark": {"type": "point", "shape": "M0,0L0.7,2L-0.7,2Z", "filled": true, "color": "black", "opacity": 1, "size": 55, "angle": 172, "strokeWidth": 0},
         "encoding": {"x": {"field": "w2", "type": "quantitative", "title": "Wavenumber (cm⁻¹)", "scale": {"domain": [750, 4000], "reverse": true, "nice": false, "zero": false}}, "y": {"field": "v2", "type": "quantitative", "title": "Absorbance (a.u)", "scale": {"domain": [0, 527], "nice": false, "zero": false}}}},
        {"data": {"name": "notes"}, "transform": [{"filter": "datum.p === 'c' && datum.k === 'note'"}], "mark": {"type": "text", "align": "center", "baseline": "middle", "fontSize": 22, "font": "Liberation Serif"},
         "encoding": {"text": {"field": "t"}}},
        {"data": {"name": "notes"}, "transform": [{"filter": "datum.p === 'c' && datum.k === 'name'"}], "mark": {"type": "text", "align": "center", "baseline": "middle", "fontSize": 23, "fontWeight": "bold", "font": "Liberation Serif"},
         "encoding": {"text": {"field": "t"}}},
        {"data": {"name": "notes"}, "transform": [{"filter": "datum.p === 'c' && datum.k === 'panel'"}], "mark": {"type": "text", "align": "center", "baseline": "middle", "fontSize": 25, "fontWeight": "bold", "font": "Liberation Serif"},
         "encoding": {"text": {"field": "t"}}}
      ]
    }
  ]
}
